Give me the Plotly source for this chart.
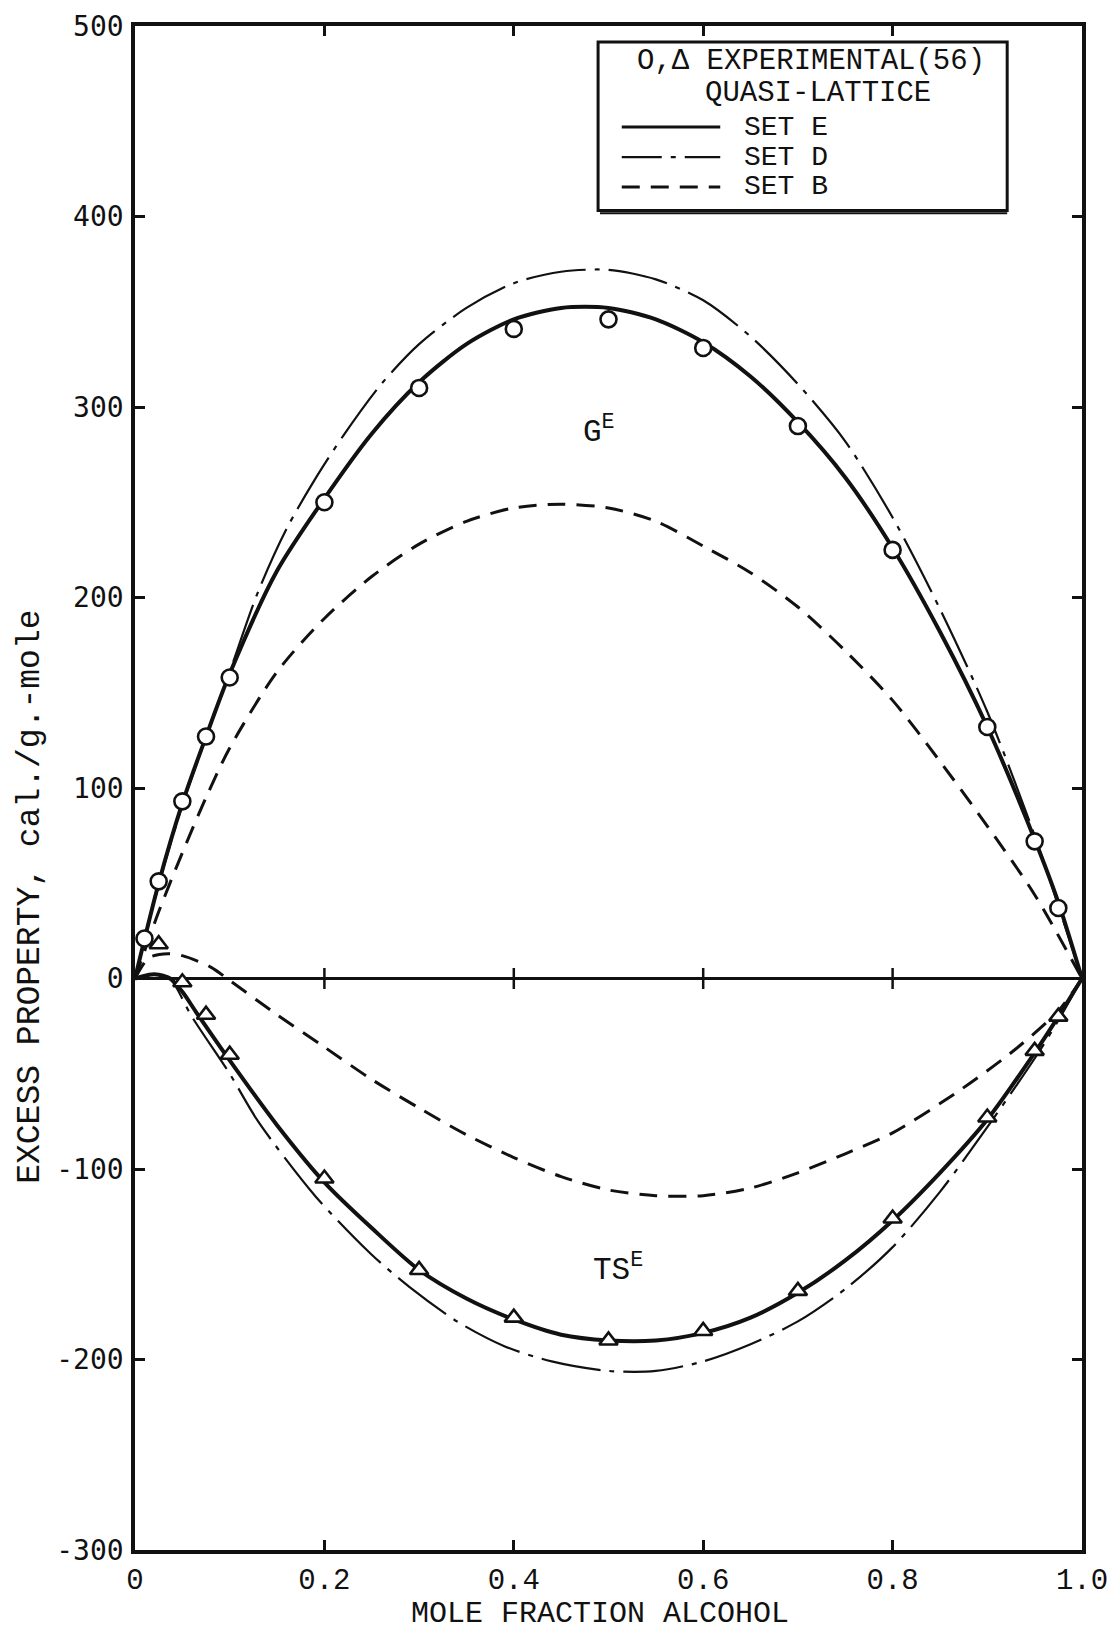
import plotly.graph_objects as go

# ---------------- data ----------------
# Experimental points (ref. 56)
ge_exp_x = [0.01, 0.025, 0.05, 0.075, 0.1, 0.2, 0.3, 0.4, 0.5, 0.6, 0.7, 0.8, 0.9, 0.95, 0.975]
ge_exp_y = [21, 51, 93, 127, 158, 250, 310, 341, 346, 331, 290, 225, 132, 72, 37]

tse_exp_x = [0.025, 0.05, 0.075, 0.1, 0.2, 0.3, 0.4, 0.5, 0.6, 0.7, 0.8, 0.9, 0.95, 0.975]
tse_exp_y = [18, -2, -19, -40, -105, -153, -178, -190, -185, -164, -126, -73, -38, -20]

# Quasi-lattice, set E (solid)
ge_setE_x = [0, 0.025, 0.05, 0.075, 0.1, 0.15, 0.2, 0.25, 0.3, 0.35, 0.4, 0.45,
             0.5, 0.55, 0.6, 0.65, 0.7, 0.75, 0.8, 0.85, 0.9, 0.95, 0.975, 1.0]
ge_setE_y = [0, 50, 92, 127, 160, 214, 252, 286, 313, 333, 346, 352,
             352, 346, 334, 316, 292, 263, 226, 182, 132, 73, 40, 0]

tse_setE_x = [0, 0.015, 0.025, 0.037, 0.05, 0.065, 0.1, 0.15, 0.2, 0.25, 0.3, 0.35, 0.4,
              0.45, 0.5, 0.55, 0.6, 0.65, 0.7, 0.75, 0.8, 0.85, 0.9, 0.95, 0.975, 1.0]
tse_setE_y = [0, 2, 2, 0, -7, -18, -43, -77, -107, -131, -153, -168, -179,
              -187, -190, -190, -186, -178, -165, -148, -127, -102, -74, -39, -20, 0]

# Quasi-lattice, set D (long dash - dot)
ge_setD_x = [0, 0.025, 0.05, 0.1, 0.13, 0.16, 0.19, 0.22, 0.26, 0.3, 0.35, 0.4,
             0.45, 0.5, 0.55, 0.6, 0.65, 0.7, 0.75, 0.8, 0.85, 0.9, 0.95, 1.0]
ge_setD_y = [0, 49, 91, 161, 203, 236, 262, 285, 312, 333, 352, 365,
             371, 372, 367, 356, 337, 312, 282, 242, 194, 140, 75, 0]

tse_setD_x = [0, 0.015, 0.025, 0.037, 0.06, 0.1, 0.13, 0.19, 0.25, 0.29, 0.34, 0.39,
              0.44, 0.5, 0.55, 0.6, 0.65, 0.7, 0.75, 0.8, 0.85, 0.9, 0.95, 0.975, 1.0]
tse_setD_y = [0, 2, 2, 0, -20, -50, -75, -114, -145, -162, -180, -193,
              -201, -206, -206, -201, -192, -180, -163, -141, -112, -78, -42, -22, 0]

# Quasi-lattice, set B (dashed)
ge_setB_x = [0, 0.025, 0.05, 0.075, 0.1, 0.15, 0.2, 0.25, 0.3, 0.35, 0.4, 0.45,
             0.5, 0.55, 0.6, 0.65, 0.7, 0.75, 0.8, 0.85, 0.9, 0.95, 1.0]
ge_setB_y = [0, 35, 66, 95, 121, 161, 189, 211, 228, 240, 247, 249,
             247, 240, 227, 213, 195, 172, 146, 114, 80, 44, 0]

tse_setB_x = [0, 0.015, 0.035, 0.05, 0.08, 0.1, 0.15, 0.2, 0.25, 0.3, 0.35, 0.4,
              0.45, 0.5, 0.55, 0.6, 0.65, 0.7, 0.75, 0.8, 0.87, 0.93, 0.975, 1.0]
tse_setB_y = [0, 11, 13, 12, 6, -1, -19, -36, -53, -68, -82, -94,
              -104, -111, -114, -114, -110, -102, -92, -81, -59, -37, -17, 0]

x_ticks = [0, 0.2, 0.4, 0.6, 0.8, 1.0]
x_tick_text = ["0", "0.2", "0.4", "0.6", "0.8", "1.0"]
y_ticks = [-300, -200, -100, 0, 100, 200, 300, 400, 500]
y_tick_text = ["-300", "-200", "-100", "0", "100", "200", "300", "400", "500"]
zero_line_ticks = [0.2, 0.4, 0.6, 0.8]

# ---------------- styles ----------------
MONO = "Liberation Mono"
BLACK = "#111111"
SOLID = dict(color=BLACK, width=4)
DASHDOT = dict(color=BLACK, width=2.2, dash="60px,9px,5px,9px")
DASHED = dict(color=BLACK, width=3, dash="18px,11px")

fig = go.Figure()

def curve(x, y, line):
    fig.add_trace(go.Scatter(x=x, y=y, mode="lines", line=dict(shape="spline", smoothing=0.8, **line),
                             showlegend=False, hoverinfo="skip"))

for xs, ys in [(ge_setB_x, ge_setB_y), (tse_setB_x, tse_setB_y)]:
    curve(xs, ys, DASHED)
for xs, ys in [(ge_setD_x, ge_setD_y), (tse_setD_x, tse_setD_y)]:
    curve(xs, ys, DASHDOT)
for xs, ys in [(ge_setE_x, ge_setE_y), (tse_setE_x, tse_setE_y)]:
    curve(xs, ys, SOLID)

# tick marks crossing the zero line
fig.add_trace(go.Scatter(x=zero_line_ticks, y=[0] * len(zero_line_ticks), mode="markers",
                         marker=dict(symbol="line-ns", size=15, line=dict(color=BLACK, width=2.5)),
                         showlegend=False, hoverinfo="skip"))

fig.add_trace(go.Scatter(x=ge_exp_x, y=ge_exp_y, mode="markers",
                         marker=dict(symbol="circle", size=16, color="white",
                                     line=dict(color=BLACK, width=2.6)),
                         showlegend=False))
fig.add_trace(go.Scatter(x=tse_exp_x, y=tse_exp_y, mode="markers",
                         marker=dict(symbol="triangle-up", size=16, color="white",
                                     line=dict(color=BLACK, width=2.6)),
                         showlegend=False))

# ---------------- legend box ----------------
fig.add_shape(type="rect", xref="paper", yref="paper", x0=0.489, x1=0.921, y0=0.879, y1=0.9895,
              line=dict(color=BLACK, width=3), fillcolor="white", layer="above")
fig.add_shape(type="line", xref="paper", yref="paper", x0=0.491, x1=0.921, y0=0.8772, y1=0.8772,
              line=dict(color=BLACK, width=2), layer="above")

LEG_FONT = dict(family=MONO, size=28, color=BLACK)
legend_rows = [("SET E", SOLID, 0.9337), ("SET D", DASHDOT, 0.914), ("SET B", DASHED, 0.8944)]
for label, style, yy in legend_rows:
    fig.add_shape(type="line", xref="paper", yref="paper", x0=0.514, x1=0.618, y0=yy, y1=yy,
                  line=dict(color=BLACK, width=min(style["width"], 3),
                            dash=style.get("dash", "solid").replace("60px", "40px")),
                  layer="above")
    fig.add_annotation(xref="paper", yref="paper", x=0.641, y=yy, text=label, showarrow=False,
                       xanchor="left", yanchor="middle", font=LEG_FONT)

fig.add_annotation(xref="paper", yref="paper", x=0.714, y=0.9764, text="O,Δ EXPERIMENTAL(56)",
                   showarrow=False, xanchor="center", yanchor="middle",
                   font=dict(family=MONO, size=29, color=BLACK))
fig.add_annotation(xref="paper", yref="paper", x=0.721, y=0.956, text="QUASI-LATTICE",
                   showarrow=False, xanchor="center", yanchor="middle",
                   font=dict(family=MONO, size=29, color=BLACK))

# curve labels
fig.add_annotation(x=0.49, y=288, text="G<sup>E</sup>", showarrow=False,
                   font=dict(family=MONO, size=31, color=BLACK))
fig.add_annotation(x=0.51, y=-152, text="TS<sup>E</sup>", showarrow=False,
                   font=dict(family=MONO, size=31, color=BLACK))

# axis titles
fig.add_annotation(xref="paper", yref="paper", x=-0.110, y=0.4285, xanchor="center", yanchor="middle",
                   text="EXCESS PROPERTY, cal./g.-mole", textangle=-90, showarrow=False,
                   font=dict(family=MONO, size=33, color=BLACK))
fig.add_annotation(xref="paper", yref="paper", x=0.491, y=-0.042, xanchor="center", yanchor="middle",
                   text="MOLE FRACTION ALCOHOL", showarrow=False,
                   font=dict(family=MONO, size=30, color=BLACK))

axis_common = dict(showline=True, linecolor=BLACK, linewidth=3.5, mirror="ticks",
                   ticks="inside", ticklen=10, tickwidth=2.5, tickcolor=BLACK,
                   showgrid=False, ticklabeloverflow="allow", automargin=False)

fig.update_layout(
    width=1109, height=1631, autosize=False,
    margin=dict(l=135, r=27, t=26, b=81),
    paper_bgcolor="white", plot_bgcolor="white",
    xaxis=dict(range=[0, 1], tickvals=x_ticks, ticktext=x_tick_text, zeroline=False,
               tickfont=dict(family=MONO, size=29, color=BLACK), ticklabelstandoff=0,
               **axis_common),
    yaxis=dict(range=[-300, 500], tickvals=y_ticks, ticktext=y_tick_text,
               zeroline=True, zerolinecolor=BLACK, zerolinewidth=3,
               tickfont=dict(family="DejaVu Sans Mono", size=28, color=BLACK), ticklabelstandoff=2,
               **axis_common),
)

fig.write_html("out.html")
